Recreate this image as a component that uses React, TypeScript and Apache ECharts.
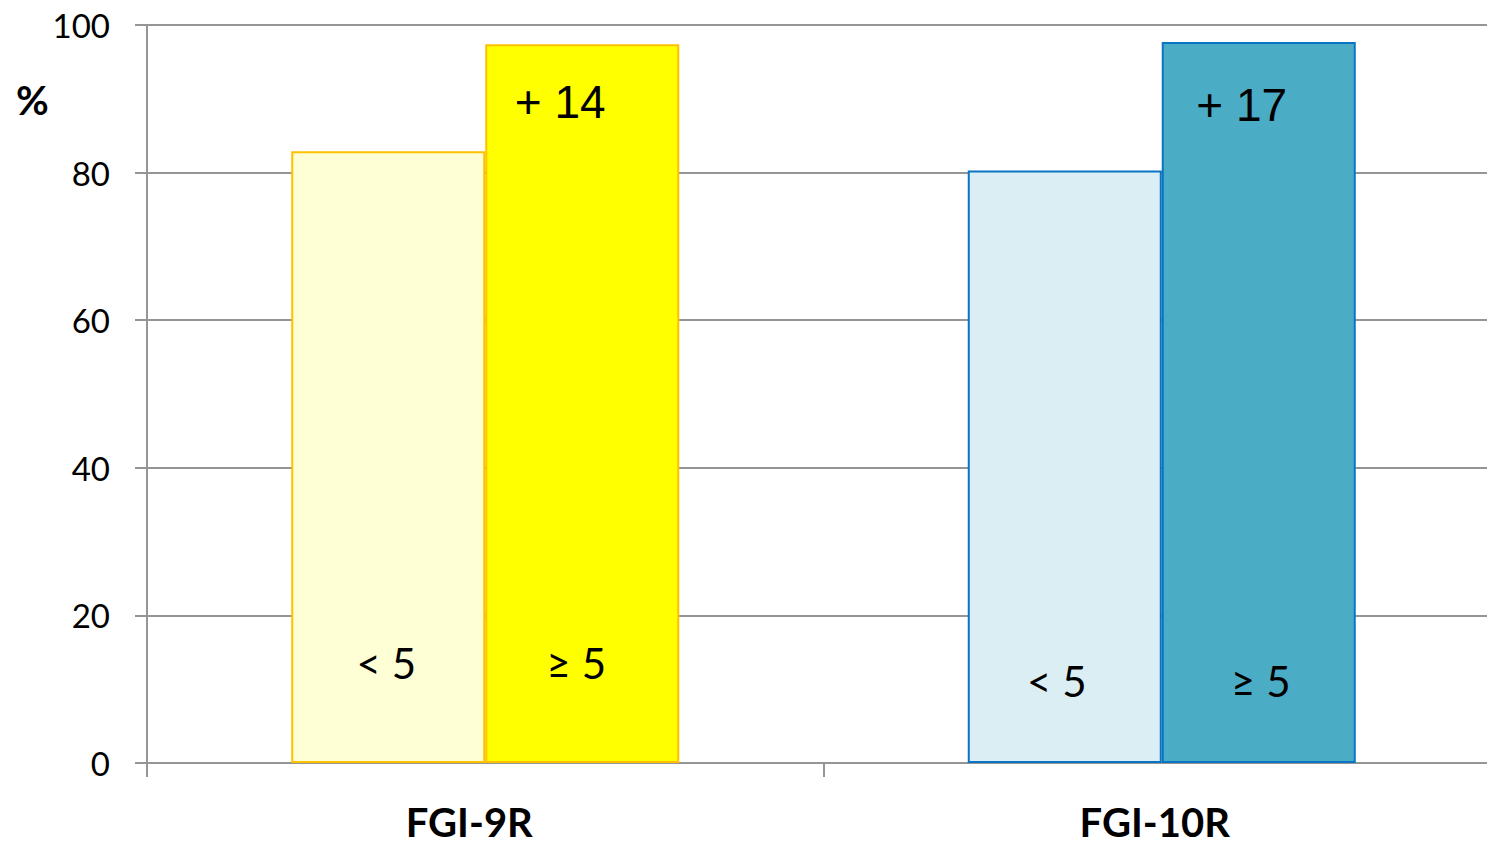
import React, { useEffect, useRef } from "react";
import * as echarts from "echarts";

// Categories and bar values (percent)
const categories = ["FGI-9R", "FGI-10R"];
const belowFive = [82.9, 80.3];
const fiveOrMore = [97.4, 97.7];
const gainLabels = ["+ 14", "+ 17"];
const groupLabels = ["< 5", "≥ 5"];
const yTicks = [0, 20, 40, 60, 80, 100];

const belowFill = ["#FFFFD5", "#DAEEF3"];
const aboveFill = ["#FFFF00", "#4BACC6"];
const barBorder = ["#FFC000", "#0A74C4"];

const CALIBRI = "Lato, 'Open Sans', sans-serif";
const ARIAL = "'Liberation Sans', Arial, sans-serif";
const GRID_COLOR = "#959595";

export default function App() {
  const ref = useRef<HTMLDivElement>(null);

  useEffect(() => {
    if (!ref.current) return;
    const chart = echarts.init(ref.current, undefined, { renderer: "svg" });

    const belowLabelDist = [79, 61];
    const belowLabelDx = [-2, -8];
    const aboveLabelDist = [79, 61];
    const aboveLabelDx = [-6, 2];
    const gainDist = [35, 40];
    const gainDx = [-22, -17];
    const catPad = [32, 14];

    chart.setOption({
      animation: false,
      backgroundColor: "#ffffff",
      grid: { left: 147, right: 0, top: 25, bottom: 83, containLabel: false },
      xAxis: [
        {
          type: "category",
          data: categories.map((c, i) => ({
            value: c,
            textStyle: { padding: [0, catPad[i], 0, 0] },
          })),
          boundaryGap: true,
          axisLine: { show: true, lineStyle: { color: GRID_COLOR, width: 2 } },
          axisTick: { show: true, length: 14, lineStyle: { color: GRID_COLOR, width: 2 } },
          axisLabel: {
            color: "#000",
            fontFamily: CALIBRI,
            fontWeight: "bold",
            fontSize: 40,
            margin: 39,
          },
        },
        {
          type: "category",
          data: categories,
          show: false,
          gridIndex: 0,
        },
      ],
      yAxis: {
        type: "value",
        min: 0,
        max: 100,
        interval: 20,
        axisLine: { show: true, lineStyle: { color: GRID_COLOR, width: 2 } },
        axisTick: { show: true, length: 12, lineStyle: { color: GRID_COLOR, width: 2 } },
        splitLine: { show: true, lineStyle: { color: GRID_COLOR, width: 2 } },
        axisLabel: {
          color: "#000",
          fontFamily: CALIBRI,
          fontSize: 33,
          margin: 37,
          formatter: (v: number) => (yTicks.includes(v) ? String(v) : ""),
        },
      },
      graphic: [
        {
          type: "text",
          left: 16,
          top: 80,
          style: {
            text: "%",
            fontFamily: CALIBRI,
            fontWeight: "bold",
            fontSize: 40,
            fill: "#000",
          },
        },
      ],
      series: [
        {
          name: groupLabels[0],
          type: "bar",
          barWidth: 194,
          barGap: 0,
          data: belowFive.map((v, i) => ({
            value: v,
            itemStyle: { color: belowFill[i], borderColor: barBorder[i], borderWidth: 2 },
            label: {
              show: true,
              position: "insideBottom",
              distance: belowLabelDist[i],
              offset: [belowLabelDx[i], 0],
              formatter: groupLabels[0],
              color: "#000",
              fontFamily: CALIBRI,
              fontSize: 42,
            },
          })),
        },
        {
          name: groupLabels[1],
          type: "bar",
          barWidth: 194,
          barGap: 0,
          data: fiveOrMore.map((v, i) => ({
            value: v,
            itemStyle: { color: aboveFill[i], borderColor: barBorder[i], borderWidth: 2 },
            label: {
              show: true,
              position: "insideBottom",
              distance: aboveLabelDist[i],
              offset: [aboveLabelDx[i], 0],
              formatter: groupLabels[1],
              color: "#000",
              fontFamily: CALIBRI,
              fontSize: 42,
            },
          })),
        },
        // Placeholder series so the gain labels line up with the second bar in each group
        {
          type: "bar",
          xAxisIndex: 1,
          barWidth: 194,
          barGap: 0,
          silent: true,
          data: categories.map(() => "-"),
        },
        {
          type: "bar",
          xAxisIndex: 1,
          barWidth: 194,
          barGap: 0,
          silent: true,
          z: 5,
          itemStyle: { color: "rgba(0,0,0,0)", borderWidth: 0 },
          data: fiveOrMore.map((v, i) => ({
            value: v,
            label: {
              show: true,
              position: "insideTop",
              distance: gainDist[i],
              offset: [gainDx[i], 0],
              formatter: gainLabels[i],
              color: "#000",
              fontFamily: ARIAL,
              fontSize: 46,
            },
          })),
        },
      ],
    });

    return () => chart.dispose();
  }, []);

  return (
    <div
      style={{
        position: "fixed",
        left: 0,
        top: 0,
        width: 1487,
        height: 846,
        overflow: "hidden",
        background: "#fff",
      }}
    >
      <div ref={ref} style={{ width: 1500, height: 846 }} />
    </div>
  );
}
